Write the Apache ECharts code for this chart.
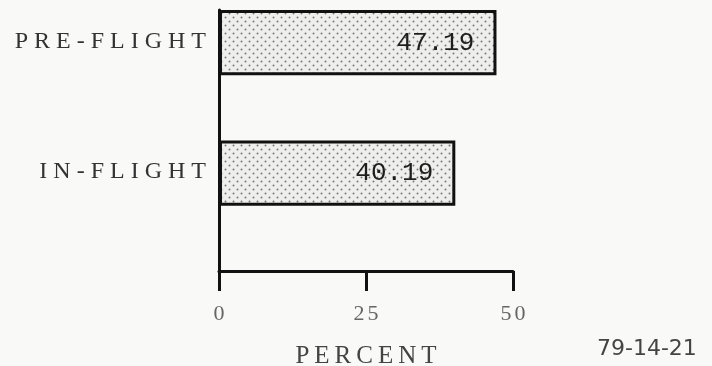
<!DOCTYPE html>
<html>
<head>
<meta charset="utf-8">
<script src="https://cdn.jsdelivr.net/npm/echarts@6/dist/echarts.min.js"></script>
<style>
html,body{margin:0;padding:0;background:#f9f9f7;}
#chart{width:712px;height:366px;}
</style>
</head>
<body>
<div id="chart"></div>
<script>
// ---- data ----
var categories = ['PRE-FLIGHT', 'IN-FLIGHT'];
var percentValues = [47.19, 40.19];
var xTicks = [0, 25, 50];
var axisTitle = 'PERCENT';
var figureId = '79-14-21';

// letter-spaced rich text: each character is its own padded fragment
function spaced(text, key) {
  return String(text).split('').map(function (ch) { return '{' + key + '|' + ch + '}'; }).join('');
}

// stipple pattern
function makePattern() {
  var c = document.createElement('canvas');
  c.width = 8; c.height = 8;
  var g = c.getContext('2d');
  g.fillStyle = '#eeeeec';
  g.fillRect(0, 0, 8, 8);
  g.fillStyle = '#767676';
  [[1.5, 1.5], [5.5, 5.5]].forEach(function (p) {
    g.beginPath(); g.arc(p[0], p[1], 0.95, 0, Math.PI * 2); g.fill();
  });
  return c;
}

var chart = echarts.init(document.getElementById('chart'), null, {renderer: 'canvas'});
chart.setOption({
  animation: false,
  backgroundColor: '#f9f9f7',
  grid: {left: 219, right: 199, top: 10, bottom: 95, containLabel: false, outerBoundsMode: 'none'},
  xAxis: {
    type: 'value',
    min: xTicks[0], max: xTicks[xTicks.length - 1], interval: xTicks[1] - xTicks[0],
    name: spaced(axisTitle, 'n'), nameLocation: 'middle', nameGap: 73,
    nameTextStyle: {fontFamily: 'Liberation Serif', fontSize: 25, color: '#444',
      rich: {n: {fontFamily: 'Liberation Serif', fontSize: 25, color: '#444', padding: [0, 2.5, 0, 2.5]}}},
    axisLine: {show: true, lineStyle: {color: '#111', width: 3}},
    axisTick: {show: true, inside: false, length: 20, lineStyle: {color: '#111', width: 3}},
    axisLabel: {margin: 32, fontFamily: 'Liberation Serif', fontSize: 22, color: '#666',
      formatter: function (v) { return spaced(v, 't'); },
      rich: {t: {fontFamily: 'Liberation Serif', fontSize: 22, color: '#666', padding: [0, 1.5, 0, 1.5]}}},
    splitLine: {show: false}
  },
  yAxis: {
    type: 'category', inverse: true, data: categories,
    axisLine: {show: true, lineStyle: {color: '#111', width: 3}},
    axisTick: {show: false},
    axisLabel: {margin: 10, fontFamily: 'Liberation Serif', fontSize: 24, color: '#333',
      verticalAlign: 'bottom', lineHeight: 68,
      formatter: function (v) { return spaced(v, 'c'); },
      rich: {c: {fontFamily: 'Liberation Serif', fontSize: 24, color: '#333', lineHeight: 68, padding: [0, 3, 0, 3]}}}
  },
  series: [{
    type: 'bar', name: 'percent', data: percentValues,
    barGap: '0%', barCategoryGap: '0%',
    itemStyle: {color: {image: makePattern(), repeat: 'repeat'}, borderColor: '#111', borderWidth: 3},
    label: {show: true, position: 'insideRight', distance: 22, formatter: function (p) { return p.value.toFixed(2); },
      fontFamily: 'Liberation Mono', fontSize: 26, color: '#1e1e1e'}
  }, {
    type: 'bar', name: 'pad', data: [null, null], barGap: '0%', barCategoryGap: '0%', silent: true
  }],
  graphic: [{
    type: 'text', left: 597, top: 338,
    style: {text: figureId, fontFamily: 'DejaVu Sans', fontSize: 22, fill: '#444'}
  }]
});
</script>
</body>
</html>
